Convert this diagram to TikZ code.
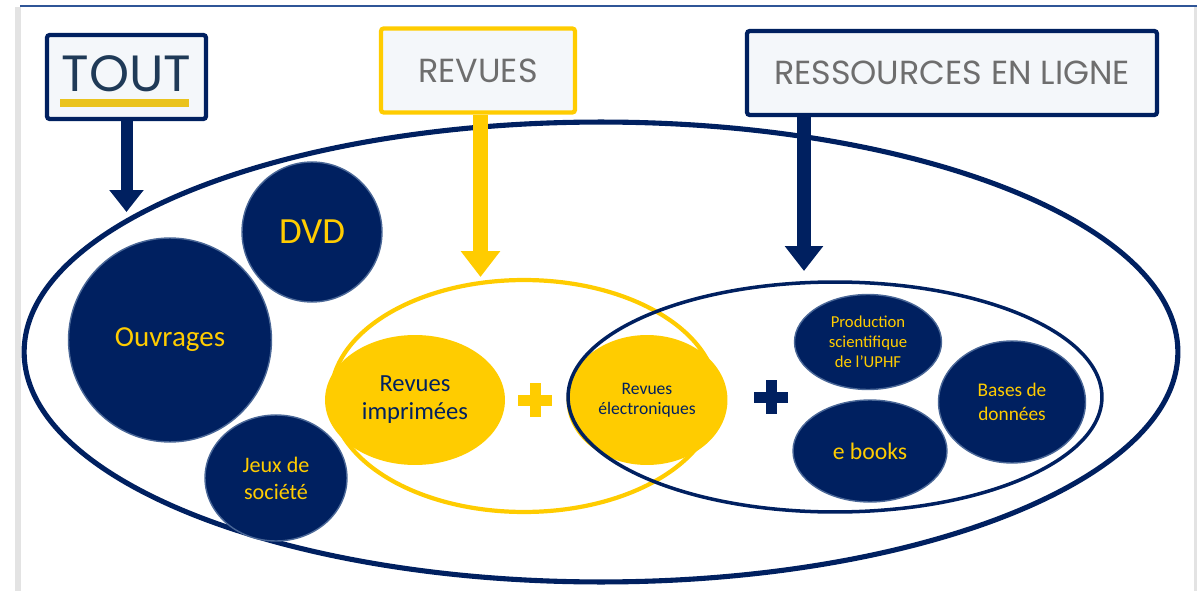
\documentclass[tikz,border=0pt]{standalone}
\usepackage{fontspec}
\setmainfont{Carlito}
\newfontfamily\headfont{Poppins}
\usepackage{tikz}
\usetikzlibrary{arrows.meta,positioning,shapes.geometric,calc}
\definecolor{navy}{HTML}{002060}
\definecolor{gold}{HTML}{FFCC00}
\definecolor{paleblue}{HTML}{F4F7FA}
\definecolor{headgrey}{HTML}{6E6E6E}
\definecolor{slate}{HTML}{1F3A57}
\definecolor{bargold}{HTML}{EAC31C}
\definecolor{rimblue}{HTML}{4A6797}
\definecolor{framegrey}{HTML}{E3E3E3}
\definecolor{topblue}{HTML}{2F5597}
\newcommand{\plusshape}[3]{% centre x, centre y, colour
  \fill[#3] (#1-17,#2-5.5) rectangle (#1+17,#2+5.5);
  \fill[#3] (#1-5.5,#2-17) rectangle (#1+5.5,#2+17);}

\begin{document}
\begin{tikzpicture}[
  x=0.02cm, y=-0.02cm,
  heading/.style={
    rectangle, rounded corners=1.5pt, fill=paleblue, line width=2.4pt,
    minimum height=1.68cm, inner sep=0pt, text=headgrey,
    font=\headfont\fontsize{19}{22}\selectfont
  },
  setring/.style={ellipse, inner sep=0pt},
  navydisc/.style={
    ellipse, fill=navy, draw=rimblue, line width=0.8pt,
    text=gold, align=center, inner sep=0pt
  },
  golddisc/.style={
    ellipse, fill=gold, text=navy, align=center, inner sep=0pt
  },
  arr/.style={line width=0.27cm, -{Triangle[length=0.5cm, width=0.74cm]}},
]
\useasboundingbox (0,0) rectangle (1197,591);

% ── Frame ──
\fill[framegrey] (15,7) rectangle (21,591);
\fill[framegrey] (1194,7) rectangle (1197,591);
\draw[topblue, line width=1.4pt] (20,6) -- (1197,6);

% ── Headings ──
\node[heading, draw=navy, minimum width=3.18cm, text=slate,
      font=\headfont\fontsize{29}{32}\selectfont] (tout) at (126.5,77)
  {\raisebox{4pt}{TOUT}};
\fill[bargold] ($(tout.south west)+(15,-22)$) rectangle ($(tout.south west)+(144,-14)$);

\node[heading, draw=gold, minimum width=3.88cm] (revues) at (478,70.5) {REVUES};

\node[heading, draw=navy, minimum width=8.2cm] (ress) at (952,73)
  {RESSOURCES EN LIGNE};

% ── Sets ──
\node[setring, draw=navy, line width=2.9pt, minimum width=23.08cm,
      minimum height=9.2cm] (whole) at (601,352) {};

\node[navydisc, minimum width=4.06cm, minimum height=4.08cm,
      font=\fontsize{16.5}{20}\selectfont] (ouvrages) at (170,340) {Ouvrages};
\node[navydisc, minimum width=2.8cm, minimum height=2.8cm,
      font=\fontsize{21}{24}\selectfont] (dvd) at (312,232) {DVD};
\node[navydisc, minimum width=2.84cm, minimum height=2.52cm,
      font=\fontsize{12.6}{15.4}\selectfont] (jeux) at (276,478) {Jeux de\\société};

\node[setring, draw=gold, line width=2.4pt, minimum width=7.72cm,
      minimum height=4.64cm] (revring) at (524,396) {};

\node[golddisc, minimum width=3.6cm, minimum height=2.6cm,
      font=\fontsize{14}{16}\selectfont] (imprimees) at (415,400) {Revues\\imprimées};
\node[golddisc, minimum width=3.22cm, minimum height=2.6cm,
      font=\fontsize{10}{11.4}\selectfont] (electro) at (647,400) {Revues\\électroniques};

\node[setring, draw=navy, line width=2pt, minimum width=10.68cm,
      minimum height=4.6cm] (ressring) at (835,397) {};

\node[navydisc, minimum width=2.94cm, minimum height=1.9cm,
      font=\fontsize{9.5}{11.5}\selectfont] (uphf) at (868,342)
  {Production\\scientifique\\de l’UPHF};
\node[navydisc, minimum width=3.08cm, minimum height=2.04cm,
      font=\fontsize{13.5}{16}\selectfont] (ebooks) at (870,451) {e books};
\node[navydisc, minimum width=2.94cm, minimum height=2.44cm,
      font=\fontsize{11}{13.7}\selectfont] (bases) at (1012,402) {Bases de\\données};

\plusshape{535}{400}{gold}
\plusshape{771}{397}{navy}

% ── Arrows ──
\coordinate (touttip) at (126.5,212);
\coordinate (revuestip) at (480.5,277);
\coordinate (resstip) at (804,271);
\draw[arr, navy, line width=0.24cm, -{Triangle[length=0.44cm, width=0.66cm]}]
  (tout.south) -- (touttip);
\draw[arr, gold, line width=0.3cm, -{Triangle[length=0.52cm, width=0.76cm]}]
  (revuestip |- revues.south) -- (revuestip);
\draw[arr, navy] (resstip |- ress.south) -- (resstip);
\end{tikzpicture}
\end{document}
